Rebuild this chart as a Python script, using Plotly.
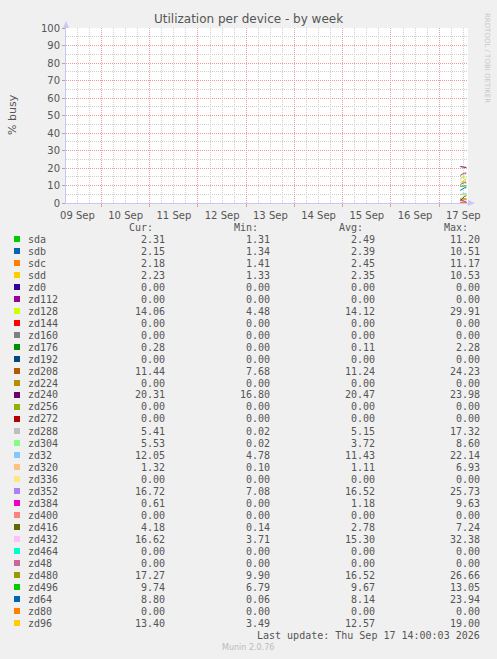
import plotly.graph_objects as go

# ---------------- data ----------------
names = ["sda", "sdb", "sdc", "sdd", "zd0", "zd112", "zd128", "zd144", "zd160", "zd176",
         "zd192", "zd208", "zd224", "zd240", "zd256", "zd272", "zd288", "zd304", "zd32",
         "zd320", "zd336", "zd352", "zd384", "zd400", "zd416", "zd432", "zd464", "zd48",
         "zd480", "zd496", "zd64", "zd80", "zd96"]
colors = ["#00CC00", "#0066B3", "#FF8000", "#FFCC00", "#330099", "#990099", "#CCFF00",
          "#FF0000", "#808080", "#008F00", "#00487D", "#B35A00", "#B38F00", "#6B006B",
          "#8FB300", "#B30000", "#BEBEBE", "#80FF80", "#80C9FF", "#FFC080", "#FFE680",
          "#AA80FF", "#EE00CC", "#FF8080", "#666600", "#FFBFFF", "#00FFCC", "#CC6699",
          "#999900", "#00CC00", "#0066B3", "#FF8000", "#FFCC00"]
cur = [2.31, 2.15, 2.18, 2.23, 0.00, 0.00, 14.06, 0.00, 0.00, 0.28, 0.00, 11.44, 0.00,
       20.31, 0.00, 0.00, 5.41, 5.53, 12.05, 1.32, 0.00, 16.72, 0.61, 0.00, 4.18, 16.62,
       0.00, 0.00, 17.27, 9.74, 8.80, 0.00, 13.40]
mins = [1.31, 1.34, 1.41, 1.33, 0.00, 0.00, 4.48, 0.00, 0.00, 0.00, 0.00, 7.68, 0.00,
        16.80, 0.00, 0.00, 0.02, 0.02, 4.78, 0.10, 0.00, 7.08, 0.00, 0.00, 0.14, 3.71,
        0.00, 0.00, 9.90, 6.79, 0.06, 0.00, 3.49]
avgs = [2.49, 2.39, 2.45, 2.35, 0.00, 0.00, 14.12, 0.00, 0.00, 0.11, 0.00, 11.24, 0.00,
        20.47, 0.00, 0.00, 5.15, 3.72, 11.43, 1.11, 0.00, 16.52, 1.18, 0.00, 2.78, 15.30,
        0.00, 0.00, 16.52, 9.67, 8.14, 0.00, 12.57]
maxs = [11.20, 10.51, 11.17, 10.53, 0.00, 0.00, 29.91, 0.00, 0.00, 2.28, 0.00, 24.23, 0.00,
        23.98, 0.00, 0.00, 17.32, 8.60, 22.14, 6.93, 0.00, 25.73, 9.63, 0.00, 7.24, 32.38,
        0.00, 0.00, 26.66, 13.05, 23.94, 0.00, 19.00]

# sampled points in the week graph (only the last hours have data)
times = ["2026-09-17 10:30", "2026-09-17 11:30", "2026-09-17 12:30", "2026-09-17 13:30"]
vals_t0 = [2.6, 2.4, 2.5, 2.4, 0.0, 0.0, 12.8, 0.0, 0.0, 0.1, 0.0, 10.6, 0.0,
           20.8, 0.0, 0.0, 4.6, 2.1, 10.4, 0.9, 0.0, 16.0, 1.9, 0.0, 1.3, 13.6,
           0.0, 0.0, 15.4, 9.5, 7.2, 0.0, 11.6]
vals_t1 = [2.5, 2.4, 2.5, 2.4, 0.0, 0.0, 14.8, 0.0, 0.0, 0.0, 0.0, 11.3, 0.0,
           20.5, 0.0, 0.0, 5.2, 3.4, 11.5, 1.1, 0.0, 16.5, 1.3, 0.0, 2.7, 15.3,
           0.0, 0.0, 16.5, 9.7, 8.1, 0.0, 12.5]
vals_t2 = [2.4, 2.3, 2.4, 2.3, 0.0, 0.0, 14.4, 0.0, 0.0, 0.2, 0.0, 11.6, 0.0,
           20.2, 0.0, 0.0, 5.5, 4.6, 12.6, 1.2, 0.0, 17.0, 0.9, 0.0, 3.6, 16.0,
           0.0, 0.0, 17.0, 9.8, 8.6, 0.0, 13.1]
vals_t3 = [2.31, 2.15, 2.18, 2.23, 0.00, 0.00, 14.06, 0.00, 0.00, 0.28, 0.00, 11.44, 0.00,
           20.31, 0.00, 0.00, 5.41, 5.53, 12.05, 1.32, 0.00, 16.72, 0.61, 0.00, 4.18, 16.62,
           0.00, 0.00, 17.27, 9.74, 8.80, 0.00, 13.40]

title_text = "Utilization per device - by week"
y_title = "% busy"
last_update = "Last update: Thu Sep 17 14:00:03 2026"
footer = "Munin 2.0.76"
watermark = "RRDTOOL / TOBI OETIKER"
x_range = ["2026-09-09 06:20", "2026-09-17 14:20"]

# ---------------- layout geometry (pixels) ----------------
W, H = 497, 659
PL, PR, PT, PB = 66, 468, 28, 203
MONO = "DejaVu Sans Mono"
SANS = "DejaVu Sans"
TXT = "#555555"
MAJ = "#EE9A9A"
MINC = "#CFCFCF"
DASH = "1px,1px"


def px(x):
    return (x - PL) / (PR - PL)


def py(y):
    return (PB - y) / (PB - PT)


fig = go.Figure()
for i, n in enumerate(names):
    fig.add_trace(go.Scatter(
        x=times, y=[vals_t0[i], vals_t1[i], vals_t2[i], vals_t3[i]], mode="lines",
        line=dict(color=colors[i], width=1), name=n, showlegend=False))

annotations = []
shapes = []

# legend header
for label, right in [("Cur:", 155), ("Min:", 260), ("Avg:", 365), ("Max:", 470)]:
    annotations.append(dict(x=px(right), y=py(227), xref="paper", yref="paper",
                            text=label, showarrow=False, xanchor="right", yanchor="middle",
                            font=dict(family=MONO, size=10, color=TXT)))

for i, n in enumerate(names):
    ry = 239 + 12 * i
    shapes.append(dict(type="rect", xref="paper", yref="paper",
                       x0=px(14), x1=px(20), y0=py(ry - 3), y1=py(ry + 3),
                       fillcolor=colors[i], line=dict(width=0)))
    annotations.append(dict(x=px(26), y=py(ry), xref="paper", yref="paper", text=n,
                            showarrow=False, xanchor="left", yanchor="middle",
                            font=dict(family=MONO, size=10, color=TXT)))
    for arr, right in [(cur, 167), (mins, 272), (avgs, 377), (maxs, 482)]:
        annotations.append(dict(x=px(right), y=py(ry), xref="paper", yref="paper",
                                text=f"{arr[i]:.2f}", showarrow=False, xanchor="right",
                                yanchor="middle",
                                font=dict(family=MONO, size=10, color=TXT)))

annotations.append(dict(x=px(482), y=py(635), xref="paper", yref="paper", text=last_update,
                        showarrow=False, xanchor="right", yanchor="middle",
                        font=dict(family=MONO, size=10, color=TXT)))
annotations.append(dict(x=px(248), y=py(647), xref="paper", yref="paper", text=footer,
                        showarrow=False, xanchor="center", yanchor="middle",
                        font=dict(family=SANS, size=8, color="#BBBBBB")))
annotations.append(dict(x=px(487), y=py(58), xref="paper", yref="paper", text=watermark,
                        showarrow=False, xanchor="center", yanchor="middle", textangle=90,
                        font=dict(family=SANS, size=7, color="#C8C8C8")))
annotations.append(dict(x=px(12), y=py(115), xref="paper", yref="paper", text=y_title,
                        showarrow=False, xanchor="center", yanchor="middle", textangle=-90,
                        font=dict(family=SANS, size=11, color=TXT)))
annotations.append(dict(x=px(248), y=py(19), xref="paper", yref="paper", text=title_text,
                        showarrow=False, xanchor="center", yanchor="middle",
                        font=dict(family=SANS, size=12, color=TXT)))

# axis arrows
AX = "#C8C8F5"
shapes.append(dict(type="path", xref="paper", yref="paper",
                   path=f"M {px(63)} {py(28)} L {px(69)} {py(28)} L {px(66)} {py(21)} Z",
                   fillcolor=AX, line=dict(width=0)))
shapes.append(dict(type="path", xref="paper", yref="paper",
                   path=f"M {px(468)} {py(200)} L {px(468)} {py(206)} L {px(475)} {py(203)} Z",
                   fillcolor=AX, line=dict(width=0)))

fig.update_layout(
    width=W, height=H,
    margin=dict(l=PL, r=W - PR, t=PT, b=H - PB, pad=0),
    paper_bgcolor="#F0F0F0", plot_bgcolor="#FFFFFF",
    showlegend=False,
    annotations=annotations, shapes=shapes,
    xaxis=dict(
        type="date", range=x_range,
        tickmode="linear", tick0="2026-09-09", dtick=86400000,
        ticklabelmode="period", tickformat="%d %b",
        showgrid=True, gridcolor=MAJ, griddash=DASH, gridwidth=1,
        ticks="outside", ticklen=3, tickcolor=MAJ,
        minor=dict(dtick=6 * 3600 * 1000, showgrid=True, gridcolor=MINC,
                   griddash=DASH, ticks=""),
        showline=True, linecolor=AX, linewidth=1,
        tickfont=dict(family=SANS, size=10, color=TXT),
        zeroline=False, fixedrange=True,
    ),
    yaxis=dict(
        range=[0, 100], tickmode="linear", tick0=0, dtick=10,
        showgrid=True, gridcolor=MAJ, griddash=DASH, gridwidth=1,
        ticks="outside", ticklen=3, tickcolor="#AAAAAA",
        minor=dict(dtick=5, showgrid=True, gridcolor=MINC, griddash=DASH),
        showline=True, linecolor=AX, linewidth=1,
        tickfont=dict(family=SANS, size=10, color=TXT),
        zeroline=False, fixedrange=True,
    ),
)

fig.write_html(
    "out.html",
    config={"displayModeBar": False, "staticPlot": True},
    post_script="document.body.style.margin='0px';document.body.style.background='#F0F0F0';",
)
